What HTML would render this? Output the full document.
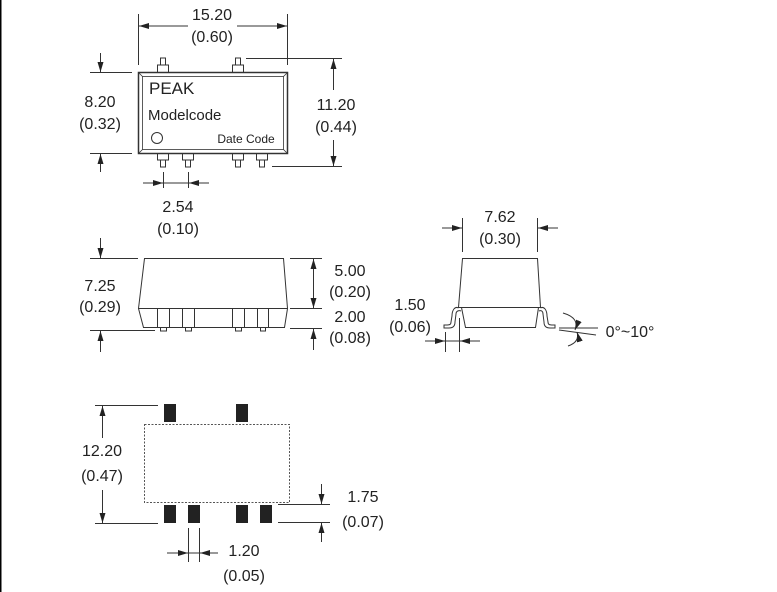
<!DOCTYPE html>
<html><head><meta charset="utf-8"><style>
html,body{margin:0;padding:0;background:#fff;}
svg{display:block;}
text{font-family:"Liberation Sans",sans-serif;font-size:16px;fill:#222;text-anchor:middle;}
</style></head><body>
<svg width="777" height="592" viewBox="0 0 777 592" xmlns="http://www.w3.org/2000/svg">
<defs>
<marker id="a" viewBox="0 0 10 6" refX="10" refY="3" markerWidth="10" markerHeight="6" orient="auto" markerUnits="userSpaceOnUse"><path d="M0,0 L10,3 L0,6z" fill="#222"/></marker>
</defs>
<rect x="0" y="0" width="1.5" height="592" fill="#000"/>
<g stroke="#333" stroke-width="1" fill="none">
<!-- TOP VIEW -->
<rect x="138.5" y="72.5" width="149" height="81" stroke-width="1.5"/>
<rect x="142.5" y="76.5" width="141" height="73" stroke-width="0.8"/>
<path d="M138.5,72.5 L142.5,76.5 M287.5,72.5 L283.5,76.5 M138.5,153.5 L142.5,149.5 M287.5,153.5 L283.5,149.5" stroke-width="0.8"/>
<circle cx="157" cy="138" r="5.5"/>
<path d="M157.5,72 V65 H168.5 V72 M160.5,65 V58 H165.5 V65"/>
<path d="M232.5,72 V65 H243.5 V72 M235.5,65 V58 H240.5 V65"/>
<path d="M157.5,154 V160 H168.5 V154 M160.5,160 V167 H165.5 V160"/>
<path d="M182.5,154 V160 H193.5 V154 M185.5,160 V167 H190.5 V160"/>
<path d="M232.5,154 V160 H243.5 V154 M235.5,160 V167 H240.5 V160"/>
<path d="M256.5,154 V160 H267.5 V154 M259.5,160 V167 H264.5 V160"/>
<!-- 15.20 -->
<path d="M138.5,14 V65 M287.5,14 V65"/>
<line x1="188" y1="26" x2="139" y2="26" marker-end="url(#a)"/>
<line x1="237" y1="26" x2="287" y2="26" marker-end="url(#a)"/>
<!-- 8.20 -->
<path d="M90,72.5 H132 M90,153.5 H132"/>
<line x1="100.5" y1="53" x2="100.5" y2="72" marker-end="url(#a)"/>
<line x1="100.5" y1="172" x2="100.5" y2="154" marker-end="url(#a)"/>
<!-- 11.20 -->
<path d="M246,58.5 H342 M272,166.5 H342"/>
<line x1="333.5" y1="90" x2="333.5" y2="59" marker-end="url(#a)"/>
<line x1="333.5" y1="140" x2="333.5" y2="166" marker-end="url(#a)"/>
<!-- 2.54 -->
<path d="M163.5,172 V188 M188.5,172 V188 M163,183 H188"/>
<line x1="143" y1="183" x2="163" y2="183" marker-end="url(#a)"/>
<line x1="209" y1="183" x2="189" y2="183" marker-end="url(#a)"/>

<!-- SIDE VIEW -->
<path d="M144.5,258.5 H283.5 L287.5,308.5 H138.5 Z"/>
<path d="M138.5,308.5 L143.5,327.5 H284.5 L287.5,308.5"/>
<path d="M157.5,309 V327 M169.5,309 V327 M182.5,309 V327 M194.5,309 V327 M232.5,309 V327 M244.5,309 V327 M257.5,309 V327 M268.5,309 V327"/>
<path d="M160.5,327 V331 H166.5 V327 M185.5,327 V331 H191.5 V327 M235.5,327 V331 H241.5 V327 M260.5,327 V331 H265.5 V327"/>
<!-- 7.25 -->
<path d="M90,258.5 H138 M90,330.5 H155"/>
<line x1="100.5" y1="238" x2="100.5" y2="258" marker-end="url(#a)"/>
<line x1="100.5" y1="352" x2="100.5" y2="331" marker-end="url(#a)"/>
<!-- 5.00/2.00 -->
<path d="M290,258.5 H322 M290,308.5 H322 M290,328.5 H322"/>
<line x1="313.5" y1="283" x2="313.5" y2="259" marker-end="url(#a)"/>
<line x1="313.5" y1="283" x2="313.5" y2="308" marker-end="url(#a)"/>
<line x1="313.5" y1="350" x2="313.5" y2="329" marker-end="url(#a)"/>

<!-- END VIEW -->
<path d="M462.5,258.5 H537.5 L540.5,307.5 H458.5 Z"/>
<path d="M461.5,307.5 L465.5,327.5 H535.5 L538.5,307.5"/>
<path d="M458.5,308 C455,306 452,310 452,316 L451,322 C451,325 449,325 446,325 H444 V328 H449 C453,328 455,326 455,322 L456,314 C456,311 459,310 461,311"/>
<path d="M540.5,308 C544,306 547,310 547,316 L548,322 C548,325 550,325 553,325 H555 V328 H550 C546,328 544,326 544,322 L543,314 C543,311 541,310 539,311"/>
<!-- 7.62 -->
<path d="M462.5,218 V252 M537.5,218 V252"/>
<line x1="442" y1="228" x2="462" y2="228" marker-end="url(#a)"/>
<line x1="558" y1="228" x2="538" y2="228" marker-end="url(#a)"/>
<!-- 1.50 -->
<path d="M445.5,332 V352 M459.5,318 V352 M445,341 H459"/>
<line x1="425" y1="341" x2="445" y2="341" marker-end="url(#a)"/>
<line x1="480" y1="341" x2="460" y2="341" marker-end="url(#a)"/>
<!-- angle -->
<path d="M559,328 H598 M559,330 L596,335"/>
<path d="M563,313 Q580,318 575,330" marker-end="url(#a)"/>
<path d="M568,346 Q580,342 577,332" marker-end="url(#a)"/>

<!-- BOTTOM VIEW -->
<rect x="144.5" y="424.5" width="145" height="78" stroke-dasharray="2,1.5" stroke="#555"/>
<path d="M95,405.5 H158 M95,523.5 H158"/>
<line x1="102.5" y1="438" x2="102.5" y2="406" marker-end="url(#a)"/>
<line x1="102.5" y1="490" x2="102.5" y2="523" marker-end="url(#a)"/>
<path d="M278,504.5 H330 M278,522.5 H330"/>
<line x1="321.5" y1="484" x2="321.5" y2="504" marker-end="url(#a)"/>
<line x1="321.5" y1="542" x2="321.5" y2="523" marker-end="url(#a)"/>
<path d="M188.5,528 V562 M199.5,528 V562 M188,553 H199"/>
<line x1="167" y1="553" x2="188" y2="553" marker-end="url(#a)"/>
<line x1="218" y1="553" x2="200" y2="553" marker-end="url(#a)"/>
</g>
<g fill="#222">
<rect x="164" y="404" width="12" height="18"/>
<rect x="236" y="404" width="12" height="18"/>
<rect x="164" y="505" width="12" height="18"/>
<rect x="188" y="505" width="12" height="18"/>
<rect x="236" y="505" width="12" height="18"/>
<rect x="260" y="505" width="12" height="18"/>
</g>
<text x="212" y="20">15.20</text><text x="212" y="42">(0.60)</text>
<text x="100" y="107">8.20</text><text x="100" y="129">(0.32)</text>
<text x="336" y="110">11.20</text><text x="336" y="132">(0.44)</text>
<text x="178" y="212">2.54</text><text x="178" y="234">(0.10)</text>
<text x="149" y="94" style="text-anchor:start;font-size:17px">PEAK</text>
<text x="148" y="120" style="text-anchor:start;font-size:15px">Modelcode</text>
<text x="246" y="143" style="font-size:12px">Date Code</text>
<text x="100" y="291">7.25</text><text x="100" y="312">(0.29)</text>
<text x="350" y="276">5.00</text><text x="350" y="297">(0.20)</text>
<text x="350" y="322">2.00</text><text x="350" y="343">(0.08)</text>
<text x="500" y="222">7.62</text><text x="500" y="244">(0.30)</text>
<text x="410" y="310">1.50</text><text x="410" y="332">(0.06)</text>
<text x="630" y="337">0°~10°</text>
<text x="102" y="456">12.20</text><text x="102" y="481">(0.47)</text>
<text x="363" y="502">1.75</text><text x="363" y="527">(0.07)</text>
<text x="244" y="556">1.20</text><text x="244" y="581">(0.05)</text>
</svg>
</body></html>
